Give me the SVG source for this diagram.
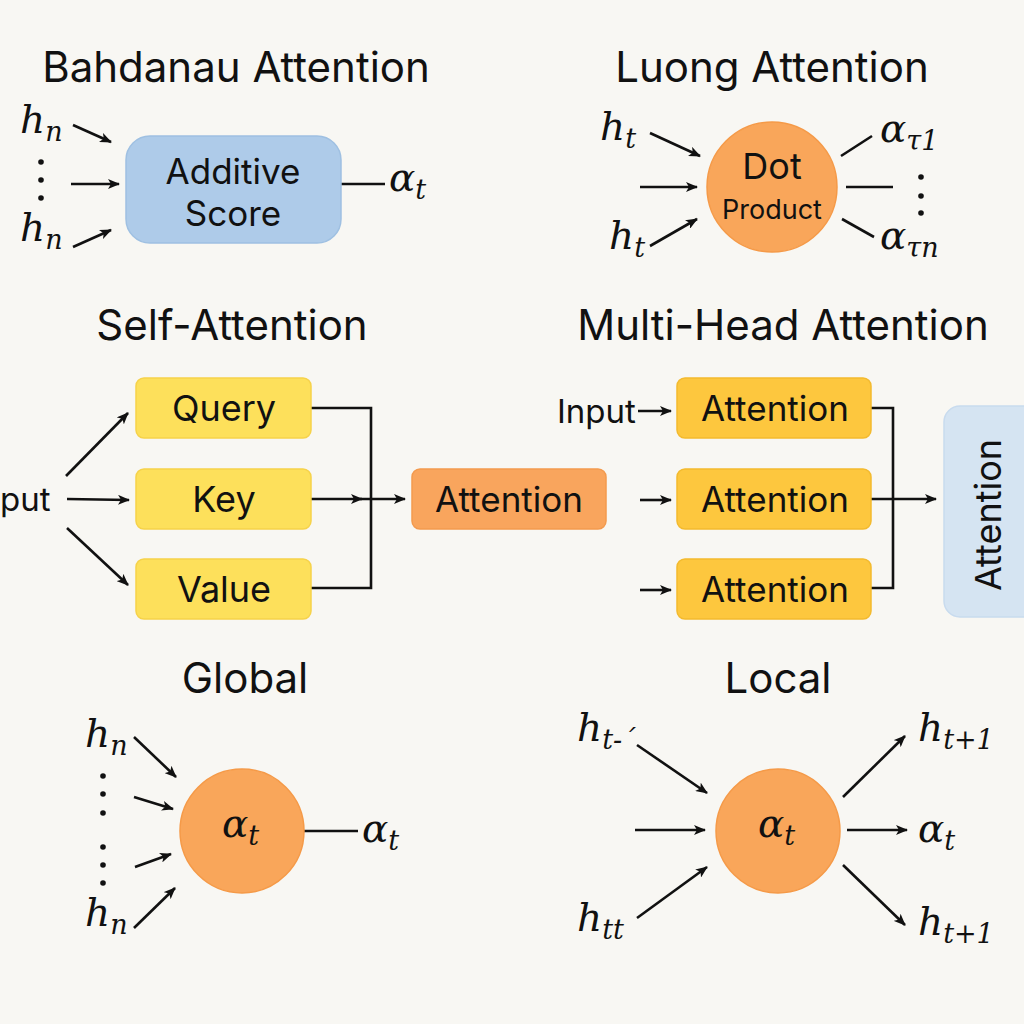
<svg xmlns="http://www.w3.org/2000/svg" width="1024" height="1024" viewBox="0 0 1024 1024">
<defs>
<marker id="arr" viewBox="0 0 12 10" refX="11" refY="5" markerWidth="12" markerHeight="10" markerUnits="userSpaceOnUse" orient="auto">
<path d="M0,0 L12,5 L0,10 L3,5 z" fill="#111"/>
</marker>
<style>
.title{font-family:Inter,"Noto Sans",sans-serif;font-size:42px;fill:#111;text-anchor:middle}
.lbl{font-family:Inter,"Noto Sans",sans-serif;fill:#111;text-anchor:middle}
.plain{font-family:Inter,"Noto Sans",sans-serif;font-size:33px;fill:#111}
.m{font-family:"DejaVu Serif","Liberation Serif",serif;font-style:italic;font-size:39px;fill:#111}
.sub{font-size:27px}
.ln{stroke:#111;stroke-width:2.6;fill:none}
.ar{stroke:#111;stroke-width:2.6;fill:none;marker-end:url(#arr)}
.dot{fill:#111}
</style>
</defs>
<rect width="1024" height="1024" fill="#f8f7f3"/>

<g id="titles">
<text class="title" x="236" y="82">Bahdanau Attention</text>
<text class="title" x="772" y="82">Luong Attention</text>
<text class="title" x="232" y="340">Self-Attention</text>
<text class="title" x="783" y="340">Multi-Head Attention</text>
<text class="title" x="245" y="693">Global</text>
<text class="title" x="778" y="693">Local</text>
</g>

<g id="connectors">
<!-- Bahdanau -->
<line class="ar" x1="73" y1="125" x2="111" y2="142"/>
<line class="ar" x1="71" y1="184" x2="119" y2="184"/>
<line class="ar" x1="73" y1="247" x2="111" y2="230"/>
<line class="ln" x1="341" y1="184" x2="385" y2="184"/>
<!-- Luong -->
<line class="ar" x1="650" y1="133" x2="700" y2="156"/>
<line class="ar" x1="640" y1="187" x2="697" y2="187"/>
<line class="ar" x1="650" y1="246" x2="697" y2="219"/>
<line class="ln" x1="841" y1="156" x2="872" y2="136"/>
<line class="ln" x1="846" y1="187" x2="893" y2="187"/>
<line class="ln" x1="842" y1="219" x2="874" y2="237"/>
<!-- Self-attention -->
<line class="ar" x1="66" y1="476" x2="128" y2="413"/>
<line class="ar" x1="67" y1="499" x2="129" y2="500"/>
<line class="ar" x1="67" y1="528" x2="128" y2="585"/>
<polyline class="ln" points="311,408 371,408 371,588 311,588"/>
<line class="ar" x1="311" y1="499" x2="362" y2="499"/>
<line class="ar" x1="360" y1="499" x2="405" y2="499"/>
<!-- Multi-head -->
<line class="ar" x1="638" y1="411" x2="671" y2="411"/>
<line class="ar" x1="640" y1="500" x2="671" y2="500"/>
<line class="ar" x1="640" y1="590" x2="671" y2="590"/>
<polyline class="ln" points="871,408 893,408 893,588 871,588"/>
<line class="ar" x1="871" y1="499" x2="936" y2="499"/>
<!-- Global -->
<line class="ar" x1="134" y1="737" x2="176" y2="777"/>
<line class="ar" x1="134" y1="797" x2="173" y2="809"/>
<line class="ar" x1="135" y1="867" x2="171" y2="854"/>
<line class="ar" x1="134" y1="928" x2="175" y2="888"/>
<line class="ln" x1="304" y1="831" x2="358" y2="831"/>
<!-- Local -->
<line class="ar" x1="637" y1="745" x2="707" y2="793"/>
<line class="ar" x1="635" y1="830" x2="705" y2="830"/>
<line class="ar" x1="637" y1="918" x2="707" y2="867"/>
<line class="ar" x1="843" y1="797" x2="905" y2="736"/>
<line class="ar" x1="847" y1="830" x2="907" y2="830"/>
<line class="ar" x1="843" y1="865" x2="905" y2="925"/>
</g>

<g id="bahdanau-inputs">
<text class="m" x="20" y="133">h<tspan class="sub" dy="8">n</tspan></text>
<circle class="dot" cx="41" cy="162" r="2.8"/>
<circle class="dot" cx="41" cy="180" r="2.8"/>
<circle class="dot" cx="41" cy="198" r="2.8"/>
<text class="m" x="20" y="241">h<tspan class="sub" dy="8">n</tspan></text>
</g>
<g id="additive-score">
<rect x="126" y="136" width="215" height="107" rx="24" fill="#aecbe9" stroke="#9fc0e2" stroke-width="1.5"/>
<text class="lbl" x="233" y="184" font-size="35">Additive</text>
<text class="lbl" x="233" y="226" font-size="35">Score</text>
</g>
<g id="bahdanau-out">
<text class="m" x="389" y="191">α<tspan class="sub" dy="8">t</tspan></text>
</g>

<g id="luong-inputs">
<text class="m" x="600" y="140">h<tspan class="sub" dy="8">t</tspan></text>
<text class="m" x="609" y="249">h<tspan class="sub" dy="8">t</tspan></text>
</g>
<g id="dot-product">
<circle cx="772" cy="187" r="65" fill="#f9a65a" stroke="#f59a48" stroke-width="1.5"/>
<text class="lbl" x="772" y="179" font-size="36">Dot</text>
<text class="lbl" x="772" y="219" font-size="27">Product</text>
</g>
<g id="luong-outputs">
<text class="m" x="880" y="142">α<tspan class="sub" dy="8">τ1</tspan></text>
<circle class="dot" cx="921" cy="177" r="2.8"/>
<circle class="dot" cx="921" cy="196" r="2.8"/>
<circle class="dot" cx="921" cy="213" r="2.8"/>
<text class="m" x="880" y="249">α<tspan class="sub" dy="8">τn</tspan></text>
</g>

<g id="self-input">
<text class="plain" x="0" y="511">put</text>
</g>
<g id="query">
<rect x="136" y="378" width="175" height="60" rx="8" fill="#fde05b" stroke="#f6d24a" stroke-width="1.5"/>
<text class="lbl" x="224" y="421" font-size="36">Query</text>
</g>
<g id="key">
<rect x="136" y="469" width="175" height="60" rx="8" fill="#fde05b" stroke="#f6d24a" stroke-width="1.5"/>
<text class="lbl" x="224" y="512" font-size="36">Key</text>
</g>
<g id="value">
<rect x="136" y="559" width="175" height="60" rx="8" fill="#fde05b" stroke="#f6d24a" stroke-width="1.5"/>
<text class="lbl" x="224" y="602" font-size="36">Value</text>
</g>
<g id="self-attention-out">
<rect x="412" y="469" width="194" height="60" rx="8" fill="#f9a55d" stroke="#f39a4e" stroke-width="1.5"/>
<text class="lbl" x="509" y="512" font-size="35">Attention</text>
</g>

<g id="mh-input">
<text class="plain" x="557" y="423">Input</text>
</g>
<g id="head1">
<rect x="677" y="378" width="194" height="60" rx="8" fill="#fdc73e" stroke="#f3ba2e" stroke-width="1.5"/>
<text class="lbl" x="775" y="421" font-size="35">Attention</text>
</g>
<g id="head2">
<rect x="677" y="469" width="194" height="60" rx="8" fill="#fdc73e" stroke="#f3ba2e" stroke-width="1.5"/>
<text class="lbl" x="775" y="512" font-size="35">Attention</text>
</g>
<g id="head3">
<rect x="677" y="559" width="194" height="60" rx="8" fill="#fdc73e" stroke="#f3ba2e" stroke-width="1.5"/>
<text class="lbl" x="775" y="602" font-size="35">Attention</text>
</g>
<g id="mh-output">
<rect x="944" y="406" width="100" height="211" rx="16" fill="#d5e4f2" stroke="#c8dbee" stroke-width="1.5"/>
<text class="lbl" x="0" y="0" font-size="36" transform="translate(1001,515) rotate(-90)">Attention</text>
</g>

<g id="global-inputs">
<text class="m" x="85" y="747">h<tspan class="sub" dy="8">n</tspan></text>
<circle class="dot" cx="103" cy="776" r="2.8"/>
<circle class="dot" cx="103" cy="794" r="2.8"/>
<circle class="dot" cx="103" cy="813" r="2.8"/>
<circle class="dot" cx="103" cy="847" r="2.8"/>
<circle class="dot" cx="103" cy="865" r="2.8"/>
<circle class="dot" cx="103" cy="883" r="2.8"/>
<text class="m" x="85" y="926">h<tspan class="sub" dy="8">n</tspan></text>
</g>
<g id="global-node">
<circle cx="242" cy="831" r="62" fill="#f9a65a" stroke="#f59a48" stroke-width="1.5"/>
<text class="m" x="222" y="837">α<tspan class="sub" dy="8">t</tspan></text>
</g>
<g id="global-out">
<text class="m" x="362" y="842">α<tspan class="sub" dy="8">t</tspan></text>
</g>

<g id="local-inputs">
<text class="m" x="577" y="741">h<tspan class="sub" dy="8">t-ˊ</tspan></text>
<text class="m" x="577" y="931">h<tspan class="sub" dy="8">tt</tspan></text>
</g>
<g id="local-node">
<circle cx="778" cy="831" r="62" fill="#f9a65a" stroke="#f59a48" stroke-width="1.5"/>
<text class="m" x="758" y="837">α<tspan class="sub" dy="8">t</tspan></text>
</g>
<g id="local-outputs">
<text class="m" x="918" y="741">h<tspan class="sub" dy="8">t+1</tspan></text>
<text class="m" x="918" y="842">α<tspan class="sub" dy="8">t</tspan></text>
<text class="m" x="918" y="935">h<tspan class="sub" dy="8">t+1</tspan></text>
</g>
</svg>
